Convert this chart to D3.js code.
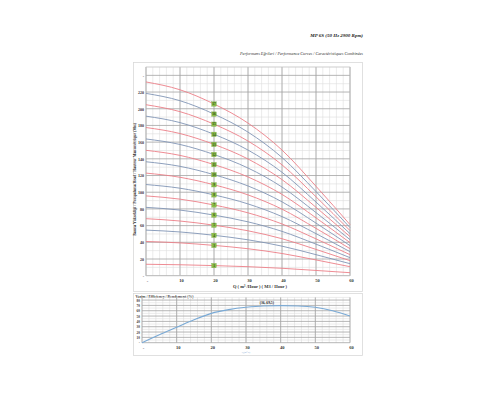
<!DOCTYPE html>
<html><head><meta charset="utf-8">
<script src="https://cdn.jsdelivr.net/npm/d3@7"></script>
<style>html,body{margin:0;padding:0;background:#fff;}svg{display:block;}</style>
</head><body>
<svg id="c" width="500" height="400"></svg>
<script>
// ---- data ----
const flowQ = [0, 10, 20, 30, 40, 50, 60];
const h01 = [13.7, 13.1, 12.1, 10.8, 8.9, 6.3, 3.6];
const h03 = [41.0, 39.3, 36.3, 32.3, 26.6, 18.9, 10.8];
const h04 = [54.6, 52.4, 48.4, 43.0, 35.4, 25.2, 14.4];
const h05 = [68.3, 65.5, 60.5, 53.8, 44.3, 31.5, 18.0];
const h06 = [81.9, 78.6, 72.6, 64.5, 53.1, 37.8, 21.6];
const h07 = [95.6, 91.7, 84.7, 75.3, 62.0, 44.1, 25.2];
const h08 = [109.2, 104.8, 96.8, 86.0, 70.8, 50.4, 28.8];
const h09 = [122.9, 117.9, 108.9, 96.8, 79.7, 56.7, 32.4];
const h10 = [136.5, 131.0, 121.0, 107.5, 88.5, 63.0, 36.0];
const h11 = [150.2, 144.1, 133.1, 118.3, 97.4, 69.3, 39.6];
const h12 = [163.8, 157.2, 145.2, 129.0, 106.2, 75.6, 43.2];
const h13 = [177.5, 170.3, 157.3, 139.8, 115.1, 81.9, 46.8];
const h14 = [191.1, 183.4, 169.4, 150.5, 123.9, 88.2, 50.4];
const h15 = [204.8, 196.5, 181.5, 161.3, 132.8, 94.5, 54.0];
const h16 = [218.4, 209.6, 193.6, 172.0, 141.6, 100.8, 57.6];
const h17 = [232.1, 222.7, 205.7, 182.8, 150.5, 107.1, 61.2];
const stageNames = [1, 3, 4, 5, 6, 7, 8, 9, 10, 11, 12, 13, 14, 15, 16, 17];
const stageHeads = [h01, h03, h04, h05, h06, h07, h08, h09, h10, h11, h12, h13, h14, h15, h16, h17];
const markerQ = 20;
const headTicks = [0, 20, 40, 60, 80, 100, 120, 140, 160, 180, 200, 220, 240];
const headTickLabels = ["-", "20", "40", "60", "80", "100", "120", "140", "160", "180", "200", "220", "-"];
const flowTicks = [0, 10, 20, 30, 40, 50, 60];
const flowTickLabels = ["-", "10", "20", "30", "40", "50", "60"];

const effQ = [0, 5, 10, 15, 20, 25, 30, 35, 40, 45, 50, 55, 60];
const effVal = [0, 15, 29, 43, 55, 62, 66.5, 69, 69.5, 69, 66.5, 60, 50];
const effTicks = [0, 10, 20, 30, 40, 50, 60, 70, 80];
const effTickLabels = ["-", "10", "20", "30", "40", "50", "60", "70", "80"];
const effNote = "(36, 69,5)";

const title = "MP 6S (50 Hz 2900 Rpm)";
const subtitle = "Performans Eğrileri / Performance Curves / Caractéristiques Combinées";
const yTitle = "Basma Yüksekliği / Pompalama Head / Hauteur Manométrique (Mss)";
const xTitle = "Q ( m³ /Hour ) ( M3 / Hour )";
const effTitle = "Verim / Efficiency / Rendement (%)";

// ---- drawing ----
const svg = d3.select("#c");
const serif = "'Liberation Serif', 'DejaVu Serif', serif";
const minorC = "#dedede", majorC = "#a3a3a3";

// titles
svg.append("text").attr("x", 363).attr("y", 37).attr("text-anchor", "end")
  .attr("font-family", serif).attr("font-style", "italic").attr("font-weight", "bold")
  .attr("font-size", 5).attr("fill", "#222").text(title);
svg.append("text").attr("x", 363).attr("y", 55).attr("text-anchor", "end")
  .attr("font-family", serif).attr("font-style", "italic")
  .attr("font-size", 4.2).attr("fill", "#333").text(subtitle);

// main frame
svg.append("rect").attr("x", 133.5).attr("y", 62.5).attr("width", 229).attr("height", 229)
  .attr("fill", "none").attr("stroke", "#d9d9d9").attr("stroke-width", 0.8);

const x = d3.scaleLinear().domain([0, 60]).range([146, 350]);
const y = d3.scaleLinear().domain([0, 250]).range([275.7, 67]);

const g = svg.append("g");
// minor grid
g.append("g").selectAll("line").data(d3.range(0, 61, 2)).join("line")
  .attr("x1", d => x(d)).attr("x2", d => x(d)).attr("y1", y(0)).attr("y2", y(250))
  .attr("stroke", minorC).attr("stroke-width", 0.6);
g.append("g").selectAll("line").data(d3.range(10, 251, 20)).join("line")
  .attr("x1", x(0)).attr("x2", x(60)).attr("y1", d => y(d)).attr("y2", d => y(d))
  .attr("stroke", minorC).attr("stroke-width", 0.6);
// major grid
g.append("g").selectAll("line").data(flowTicks).join("line")
  .attr("x1", d => x(d)).attr("x2", d => x(d)).attr("y1", y(0)).attr("y2", y(250))
  .attr("stroke", majorC).attr("stroke-width", 0.8);
g.append("g").selectAll("line").data(headTicks).join("line")
  .attr("x1", x(0)).attr("x2", x(60)).attr("y1", d => y(d)).attr("y2", d => y(d))
  .attr("stroke", majorC).attr("stroke-width", 0.8);
g.append("rect").attr("x", x(0)).attr("y", y(250)).attr("width", x(60) - x(0)).attr("height", y(0) - y(250))
  .attr("fill", "none").attr("stroke", "#c4c4c4").attr("stroke-width", 0.6);

// axes labels
const yAxis = d3.axisLeft(y).tickValues(headTicks).tickSize(0).tickPadding(2)
  .tickFormat((d, i) => headTickLabels[i]);
const ya = svg.append("g").attr("transform", `translate(${x(0)},0)`).call(yAxis);
ya.select(".domain").remove();
ya.selectAll("text").attr("font-family", serif).attr("font-weight", "bold").attr("font-size", 4).attr("fill", "#333");

const xAxis = d3.axisBottom(x).tickValues(flowTicks).tickSize(0).tickPadding(3)
  .tickFormat((d, i) => flowTickLabels[i]);
const xa = svg.append("g").attr("transform", `translate(1,${y(0)})`).call(xAxis);
xa.select(".domain").remove();
xa.selectAll("text").attr("font-family", serif).attr("font-weight", "bold").attr("font-size", 4.5).attr("fill", "#333");

svg.append("text").attr("transform", `translate(135.5,${(y(0) + y(250)) / 2 + 8}) rotate(-90)`)
  .attr("text-anchor", "middle").attr("font-family", serif).attr("font-weight", "bold")
  .attr("font-size", 3.8).attr("fill", "#333").text(yTitle);
svg.append("text").attr("x", 260).attr("y", 287.5).attr("text-anchor", "middle")
  .attr("font-family", serif).attr("font-weight", "bold").attr("font-size", 4.5).attr("fill", "#333").text(xTitle);

// curves
const line = d3.line().x((d, i) => x(flowQ[i])).y(d => y(d)).curve(d3.curveMonotoneX);
stageNames.forEach((n, k) => {
  svg.append("path").datum(stageHeads[k]).attr("d", line).attr("fill", "none")
    .attr("stroke", n % 2 ? "#ec7f88" : "#8195b6").attr("stroke-width", 0.9);
});
// markers at Q = 20
const mIdx = flowQ.indexOf(markerQ);
stageNames.forEach((n, k) => {
  const cx = x(markerQ), cy = y(stageHeads[k][mIdx]);
  svg.append("rect").attr("x", cx - 2.3).attr("y", cy - 2.2).attr("width", 4.6).attr("height", 4.4)
    .attr("fill", "#8dbf4a").attr("stroke", "#6a9a3a").attr("stroke-width", 0.3);
  svg.append("text").attr("x", cx).attr("y", cy + 1.3).attr("text-anchor", "middle")
    .attr("font-family", serif).attr("font-weight", "bold").attr("font-size", 3.4).attr("fill", "#2d4a12").text(n);
});

// ---- efficiency chart ----
svg.append("rect").attr("x", 133.5).attr("y", 293.5).attr("width", 229).attr("height", 62)
  .attr("fill", "none").attr("stroke", "#d9d9d9").attr("stroke-width", 0.8);
svg.append("text").attr("x", 135.5).attr("y", 297.5).attr("font-family", serif).attr("font-weight", "bold")
  .attr("font-size", 3.8).attr("fill", "#333").text(effTitle);

const ex = d3.scaleLinear().domain([0, 60]).range([142, 350]);
const ey = d3.scaleLinear().domain([0, 85]).range([342.7, 297.4]);
const eg = svg.append("g");
eg.append("g").selectAll("line").data(d3.range(0, 61, 2)).join("line")
  .attr("x1", d => ex(d)).attr("x2", d => ex(d)).attr("y1", ey(0)).attr("y2", ey(85))
  .attr("stroke", minorC).attr("stroke-width", 0.6);
eg.append("g").selectAll("line").data(d3.range(5, 86, 10)).join("line")
  .attr("x1", ex(0)).attr("x2", ex(60)).attr("y1", d => ey(d)).attr("y2", d => ey(d))
  .attr("stroke", minorC).attr("stroke-width", 0.6);
eg.append("g").selectAll("line").data(flowTicks).join("line")
  .attr("x1", d => ex(d)).attr("x2", d => ex(d)).attr("y1", ey(0)).attr("y2", ey(85))
  .attr("stroke", majorC).attr("stroke-width", 0.8);
eg.append("g").selectAll("line").data(effTicks).join("line")
  .attr("x1", ex(0)).attr("x2", ex(60)).attr("y1", d => ey(d)).attr("y2", d => ey(d))
  .attr("stroke", majorC).attr("stroke-width", 0.8);

const eyAxis = d3.axisLeft(ey).tickValues(effTicks).tickSize(0).tickPadding(2)
  .tickFormat((d, i) => effTickLabels[i]);
const eya = svg.append("g").attr("transform", `translate(${ex(0)},0)`).call(eyAxis);
eya.select(".domain").remove();
eya.selectAll("text").attr("font-family", serif).attr("font-weight", "bold").attr("font-size", 3.4).attr("fill", "#333");
const exAxis = d3.axisBottom(ex).tickValues(flowTicks).tickSize(0).tickPadding(3)
  .tickFormat((d, i) => flowTickLabels[i]);
const exa = svg.append("g").attr("transform", `translate(1,${ey(0)})`).call(exAxis);
exa.select(".domain").remove();
exa.selectAll("text").attr("font-family", serif).attr("font-weight", "bold").attr("font-size", 4.5).attr("fill", "#333");
svg.append("text").attr("x", 246).attr("y", 352.5).attr("text-anchor", "middle")
  .attr("font-family", serif).attr("font-size", 2.6).attr("fill", "#8fb3d9").text("Q(m³/h)");

const eline = d3.line().x((d, i) => ex(effQ[i])).y(d => ey(d)).curve(d3.curveMonotoneX);
svg.append("path").datum(effVal).attr("d", eline).attr("fill", "none")
  .attr("stroke", "#7aaad6").attr("stroke-width", 1.1);
svg.append("text").attr("x", ex(36)).attr("y", ey(70.5) - 1).attr("text-anchor", "middle")
  .attr("font-family", serif).attr("font-weight", "bold").attr("font-size", 3.6).attr("fill", "#222").text(effNote);
</script>
</body></html>
